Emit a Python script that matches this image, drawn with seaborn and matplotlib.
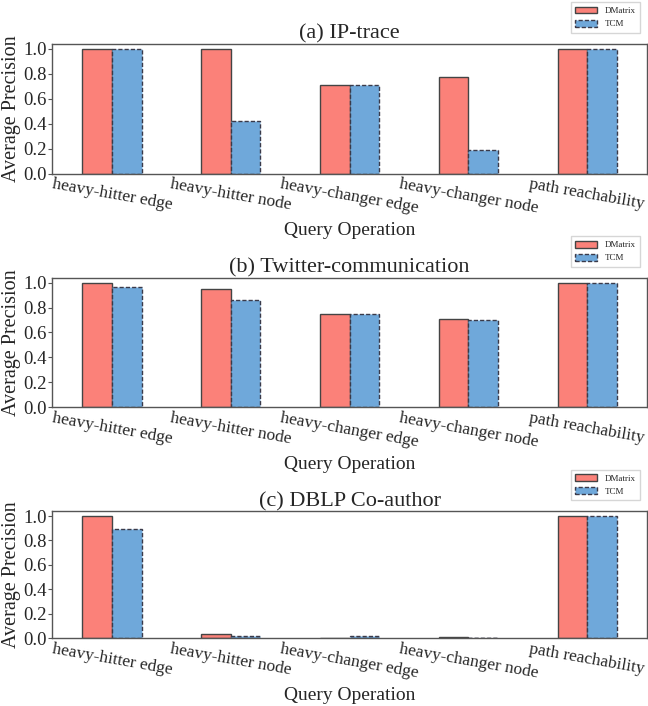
import matplotlib
matplotlib.use('Agg')
import matplotlib.pyplot as plt
from matplotlib.patches import Patch
import pandas as pd
import seaborn as sns

# Data
operations = ['heavy-hitter edge', 'heavy-hitter node', 'heavy-changer edge',
              'heavy-changer node', 'path reachability']
methods = ['DMatrix', 'TCM']
titles = ['(a) IP-trace', '(b) Twitter-communication', '(c) DBLP Co-author']

ip_dmatrix = [1.0, 1.0, 0.71, 0.77, 1.0]
ip_tcm = [1.0, 0.42, 0.71, 0.19, 1.0]
tw_dmatrix = [1.0, 0.95, 0.745, 0.71, 1.0]
tw_tcm = [0.97, 0.86, 0.745, 0.70, 1.0]
dblp_dmatrix = [1.0, 0.035, 0.003, 0.008, 1.0]
dblp_tcm = [0.89, 0.015, 0.018, 0.002, 1.0]

panels = [(ip_dmatrix, ip_tcm), (tw_dmatrix, tw_tcm), (dblp_dmatrix, dblp_tcm)]

sns.set_style('ticks')
plt.rcParams['font.family'] = ['Liberation Serif', 'DejaVu Serif']
plt.rcParams['axes.edgecolor'] = '#555555'
plt.rcParams['axes.linewidth'] = 1.0

palette = {'DMatrix': '#FB8179', 'TCM': '#6FA8DA'}
red_edge = '#444444'
blue_edge = '#3a3a4a'
dash = (0, (3, 1.5))

fig = plt.figure(figsize=(6.48, 7.06), dpi=100)

# axes boxes (left, bottom, width, height) in figure fractions
boxes = [(0.081, 0.754, 0.917, 0.184),
         (0.081, 0.4235, 0.917, 0.183),
         (0.081, 0.096, 0.917, 0.180)]

for box, title, (dm, tcm) in zip(boxes, titles, panels):
    ax = fig.add_axes(box)
    df = pd.DataFrame({
        'Query Operation': operations * 2,
        'Average Precision': dm + tcm,
        'Method': ['DMatrix'] * len(operations) + ['TCM'] * len(operations),
    })
    sns.barplot(data=df, x='Query Operation', y='Average Precision', hue='Method',
                hue_order=methods, palette=palette, width=0.5, gap=0,
                saturation=1, legend=False, ax=ax)
    for patch in ax.containers[0]:
        patch.set_edgecolor(red_edge)
        patch.set_linewidth(1.0)
    for patch in ax.containers[1]:
        patch.set_edgecolor(blue_edge)
        patch.set_linewidth(1.0)
        patch.set_linestyle(dash)

    ax.set_xlim(-0.5, 4.5)
    ax.set_ylim(0, 1.04)
    ax.set_yticks([0.0, 0.2, 0.4, 0.6, 0.8, 1.0])
    ax.set_yticklabels(['0.0', '0.2', '0.4', '0.6', '0.8', '1.0'], fontsize=13.5)
    ax.tick_params(axis='y', direction='out', length=3, pad=1, color='#555555')
    ax.tick_params(axis='x', length=0, pad=2)
    ax.set_xticks(range(len(operations)))
    ax.set_xticklabels(operations, rotation=-10, ha='center', fontsize=12.5)
    ax.set_xlabel('Query Operation', fontsize=14, labelpad=4)
    ax.set_ylabel('Average Precision', fontsize=14.5, labelpad=2)
    ax.set_title(title, fontsize=16, pad=2)

    handles = [Patch(facecolor=palette['DMatrix'], edgecolor=red_edge, linewidth=1.0),
               Patch(facecolor=palette['TCM'], edgecolor=blue_edge, linewidth=1.0,
                     linestyle=dash)]
    ax.legend(handles, methods, loc='lower right', bbox_to_anchor=(0.997, 1.05),
              fontsize=6.5, frameon=True, fancybox=False, edgecolor='#cccccc',
              handlelength=2.4, handleheight=0.8, borderpad=0.5, labelspacing=0.5,
              handletextpad=0.9)

fig.savefig('out.png', dpi=100)
